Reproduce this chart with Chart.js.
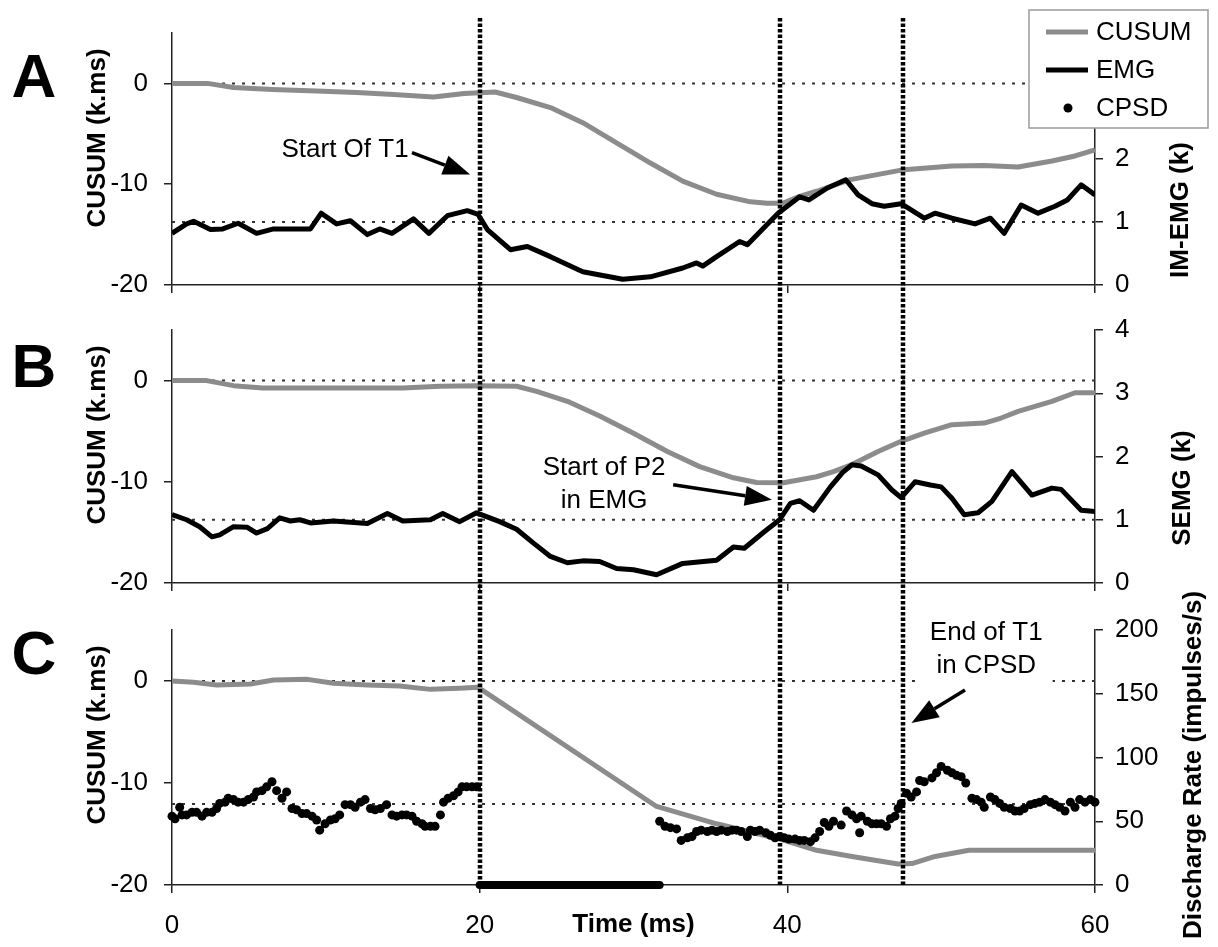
<!DOCTYPE html>
<html>
<head>
<meta charset="utf-8">
<script src="https://cdn.jsdelivr.net/npm/chart.js@4.4.1/dist/chart.umd.min.js"></script>
<style>
  body { margin: 0; background: #fff; }
  #wrap { position: relative; width: 1218px; height: 947px; }
  #wrap canvas { position: absolute; left: 0; top: 0; }
</style>
</head>
<body>
<div id="wrap">
  <canvas id="panelA" width="1218" height="947"></canvas>
  <canvas id="panelB" width="1218" height="947"></canvas>
  <canvas id="panelC" width="1218" height="947"></canvas>
</div>
<script>
'use strict';

// ticks
const timeTicks = [0, 20, 40, 60];
const cusumTicks = [-20, -10, 0];
const emgTicks = [0, 1, 2, 3, 4];
const rateTicks = [0, 50, 100, 150, 200];
const seriesNames = ['CUSUM', 'EMG', 'CPSD'];

// vertical event markers (ms) and the T1 gap bar
const eventTimes = [20, 39.5, 47.5];
const t1Gap = [20, 31.7];

// panel A: CUSUM (k.ms) and IM-EMG (k)
const cusumA_t = [0, 2.3, 4, 6.5, 9.4, 12, 14.4, 17, 19, 21, 22.4, 24.6, 26.7, 28.9, 31.1, 33.2, 35.4, 37.6, 38.7, 39.7, 40.8, 41.9, 44.1, 47.4, 50.7, 52.8, 55, 57.2, 58.7, 60];
const cusumA = [0, 0, -0.4, -0.6, -0.75, -0.9, -1.1, -1.35, -1.0, -0.85, -1.4, -2.4, -3.9, -5.9, -7.9, -9.7, -11.0, -11.75, -11.9, -11.9, -11.2, -10.7, -9.55, -8.6, -8.2, -8.15, -8.3, -7.7, -7.2, -6.6];
const emgA_t = [0, 0.95, 1.4, 2.5, 3.3, 4.3, 5.5, 6.6, 9, 9.7, 10.7, 11.6, 12.7, 13.5, 14.3, 15.7, 16.7, 17.9, 19.2, 19.9, 20.5, 22, 23.1, 24.6, 26.7, 29.3, 31.1, 33.2, 34.1, 34.5, 35.4, 36.9, 37.4, 39.4, 40.8, 41.4, 42.6, 43.8, 44.6, 45.5, 46.3, 47.4, 48.9, 49.6, 50.7, 52.2, 53.2, 54.1, 55.2, 56.3, 57.4, 58.2, 59.1, 60];
const emgA = [0.82, 0.97, 1.01, 0.88, 0.89, 0.98, 0.82, 0.89, 0.89, 1.14, 0.97, 1.02, 0.8, 0.89, 0.82, 1.05, 0.82, 1.1, 1.18, 1.12, 0.88, 0.56, 0.61, 0.45, 0.21, 0.09, 0.13, 0.27, 0.35, 0.3, 0.45, 0.69, 0.64, 1.14, 1.4, 1.35, 1.54, 1.67, 1.43, 1.29, 1.25, 1.29, 1.06, 1.14, 1.06, 0.97, 1.06, 0.82, 1.27, 1.14, 1.25, 1.35, 1.59, 1.43];

// panel B: CUSUM (k.ms) and SEMG (k)
const cusumB_t = [0, 2.25, 4, 5.9, 10, 15, 17.4, 19.9, 22.4, 23.7, 25.7, 27.8, 30, 32.2, 34.3, 36.5, 38, 39.75, 41.9, 43, 44.2, 45.9, 47.4, 48.9, 50.7, 52.8, 53.9, 55, 57.2, 58.7, 60];
const cusumB = [0, 0, -0.5, -0.73, -0.72, -0.72, -0.57, -0.5, -0.56, -1.06, -2.05, -3.5, -5.2, -7.0, -8.5, -9.6, -10.07, -10.1, -9.5, -9.0, -8.3, -7.0, -6.0, -5.2, -4.36, -4.2, -3.7, -3.04, -2.05, -1.2, -1.2];
const emgB_t = [0, 0.95, 1.8, 2.6, 3.1, 4.0, 4.9, 5.5, 6.2, 7.0, 7.7, 8.3, 9.0, 10.5, 12.7, 14.0, 15.0, 16.8, 17.6, 18.7, 19.8, 21.3, 22.4, 23.5, 24.6, 25.7, 26.7, 27.8, 28.9, 30, 31.5, 33.2, 35.4, 36.5, 37.2, 38.5, 39.5, 40.2, 40.8, 41.7, 42.8, 43.6, 44.2, 44.8, 45.9, 46.8, 47.4, 48.3, 49.3, 50.0, 50.7, 51.5, 52.4, 53.3, 54.6, 55.9, 57.2, 57.8, 59.1, 60];
const emgB = [1.08, 1.0, 0.89, 0.73, 0.76, 0.89, 0.88, 0.79, 0.86, 1.03, 0.98, 1.0, 0.95, 0.98, 0.94, 1.1, 0.98, 1.0, 1.1, 0.97, 1.11, 0.97, 0.85, 0.63, 0.42, 0.32, 0.35, 0.34, 0.23, 0.21, 0.13, 0.31, 0.36, 0.57, 0.55, 0.81, 1.0, 1.26, 1.3, 1.15, 1.52, 1.75, 1.87, 1.85, 1.71, 1.47, 1.35, 1.6, 1.55, 1.52, 1.34, 1.08, 1.11, 1.29, 1.76, 1.39, 1.5, 1.48, 1.15, 1.13];

// panel C: CUSUM (k.ms) and CPSD discharge rate (impulses/s)
const cusumC_t = [0, 1.4, 2.9, 5.1, 6.6, 8.8, 10.5, 12.7, 14.8, 16.8, 18.7, 19.9, 31.5, 35.4, 37.6, 39.75, 41.9, 44.2, 47.2, 48.1, 49.6, 51.8, 60];
const cusumC = [0, -0.13, -0.4, -0.3, 0.1, 0.16, -0.23, -0.4, -0.5, -0.82, -0.72, -0.62, -12.3, -14.0, -14.8, -15.6, -16.6, -17.2, -17.94, -17.9, -17.2, -16.6, -16.6];
const cpsd_t = [0, 0.2, 0.5, 0.65, 0.95, 1.3, 1.6, 1.95, 2.25, 2.6, 2.9, 3.1, 3.45, 3.65, 4.0, 4.3, 4.65, 4.95, 5.3, 5.5,
  5.85, 6.15, 6.5, 6.8, 7.15, 7.45, 7.8, 8.1, 8.45, 8.75, 9.1, 9.4, 9.6, 9.95, 10.3, 10.6, 10.9, 11.25, 11.6, 11.9,
  12.25, 12.55, 12.9, 13.2, 13.55, 13.95, 14.3, 14.6, 14.95, 15.25, 15.6, 15.9, 16.25, 16.45, 16.8, 17.1, 17.45, 17.65, 17.95, 18.3,
  18.6, 18.85, 19.15, 19.5, 19.8,
  31.7, 32.05, 32.4, 32.8, 33.1, 33.5, 33.8, 34.1, 34.4, 34.8, 35.1, 35.4, 35.7, 36.1, 36.4, 36.7, 37.0, 37.4, 37.6, 37.9,
  38.2, 38.6, 38.9, 39.2, 39.5, 39.8, 40.1, 40.5, 40.8, 41.1, 41.5, 41.8, 42.1, 42.4, 42.7, 43.0, 43.5, 43.85, 44.2, 44.5,
  44.7, 44.8, 45.2, 45.5, 45.8, 46.1, 46.45, 46.7, 47.0, 47.2, 47.4, 47.75, 48.05, 48.4, 48.6, 48.9, 49.4, 49.7, 50.0, 50.4,
  50.7, 51.0, 51.3, 51.6, 52.0, 52.3, 52.6, 52.8, 53.2, 53.5, 53.8, 54.1, 54.5, 54.8, 55.1, 55.4, 55.8, 56.1, 56.4, 56.75,
  57.1, 57.4, 57.7, 58.05, 58.4, 58.7, 59.0, 59.35, 59.7, 60.0];
const cpsd = [54, 52, 61, 55, 55, 57, 57, 54, 57, 57, 60, 64, 65, 68, 67, 65, 65, 67, 69, 73,
  74, 77, 81, 74, 68, 73, 60, 59, 56, 56, 54, 51, 43, 48, 51, 52, 55, 63, 63, 61,
  65, 67, 60, 59, 60, 63, 55, 54, 55, 55, 54, 50, 48, 46, 46, 46, 55, 65, 68, 70,
  73, 77, 77, 77, 77,
  50, 46, 45, 44, 35, 37, 38, 42, 43, 42, 43, 42, 43, 42, 43, 43, 42, 38, 43, 42,
  43, 41, 39, 37, 38, 37, 36, 36, 35, 35, 34, 37, 42, 49, 46, 50, 47, 58, 55, 52,
  41, 54, 50, 48, 48, 48, 46, 52, 54, 60, 64, 72, 69, 73, 82, 81, 84, 88, 93, 90,
  88, 86, 85, 80, 68, 67, 65, 61, 69, 67, 64, 61, 60, 58, 58, 60, 63, 64, 65, 67,
  65, 63, 61, 58, 65, 61, 67, 65, 67, 65];

const FONT = "'Liberation Sans', Arial, sans-serif";
const GREY = '#8c8c8c';
Chart.defaults.font.family = FONT;
Chart.defaults.font.size = 26;
Chart.defaults.color = '#000';

const pts = (ts, vs) => ts.map((t, i) => ({ x: t, y: vs[i] }));

const panels = [
  {
    id: 'panelA', letter: 'A', top: 33, bottom: 285, xh: 10, showX: false,
    datasets: [
      { label: seriesNames[1], data: pts(emgA_t, emgA), yAxisID: 'yR', borderColor: '#000', borderWidth: 5 },
      { label: seriesNames[0], data: pts(cusumA_t, cusumA), yAxisID: 'yL', borderColor: GREY, borderWidth: 5 }
    ],
    rightMax: 4, rightTicks: emgTicks, rightTitle: 'IM-EMG (k)',
    refLeft: 0, refRight: 1, rightTitleDx: 86, rightTitleDy: 177, letterDy: 47,
    note: { lines: ['Start Of T1'], at: [11.25, -6.57], tail: [15.6, -6.87], tip: [19.38, -9.05] },
    legend: true
  },
  {
    id: 'panelB', letter: 'B', top: 330, bottom: 583, xh: 10, showX: false,
    datasets: [
      { label: seriesNames[1], data: pts(emgB_t, emgB), yAxisID: 'yR', borderColor: '#000', borderWidth: 5 },
      { label: seriesNames[0], data: pts(cusumB_t, cusumB), yAxisID: 'yL', borderColor: GREY, borderWidth: 5 }
    ],
    rightMax: 4, rightTicks: emgTicks, rightTitle: 'SEMG (k)',
    refLeft: 0, refRight: 1, rightTitleDx: 88, rightTitleDy: 158, letterDy: 40,
    note: { lines: ['Start of P2', 'in EMG'], at: [28.09, -8.61], tail: [32.58, -10.3], tip: [39.0, -11.78] }
  },
  {
    id: 'panelC', letter: 'C', top: 630, bottom: 885, xh: 60, showX: true,
    datasets: [
      { label: seriesNames[2], data: pts(cpsd_t, cpsd), yAxisID: 'yR', showLine: false,
        pointRadius: 4.5, pointBackgroundColor: '#000', pointBorderWidth: 0, clip: false },
      { label: 'T1', data: pts(t1Gap, [0, 0]), yAxisID: 'yR', borderColor: '#000', borderWidth: 8,
        borderCapStyle: 'round', clip: false },
      { label: seriesNames[0], data: pts(cusumC_t, cusumC), yAxisID: 'yL', borderColor: GREY, borderWidth: 5 }
    ],
    rightMax: 200, rightTicks: rateTicks, rightTitle: 'Discharge Rate (impulses/s)',
    refLeft: 0, refRight: 63.5, rightTitleDx: 99, rightTitleDy: 135, letterDy: 27,
    note: { lines: ['End of T1', 'in CPSD'], at: [52.93, 4.71], tail: [51.55, -0.88], tip: [48.07, -4.12], box: true },
    events: true
  }
];

function arrow(ctx, x0, y0, x1, y1) {
  const ang = Math.atan2(y1 - y0, x1 - x0);
  const len = 27, half = 10;
  const bx = x1 - len * Math.cos(ang), by = y1 - len * Math.sin(ang);
  ctx.lineWidth = 3.5;
  ctx.beginPath(); ctx.moveTo(x0, y0); ctx.lineTo(bx, by); ctx.stroke();
  ctx.beginPath();
  ctx.moveTo(x1, y1);
  ctx.lineTo(bx + half * Math.sin(ang), by - half * Math.cos(ang));
  ctx.lineTo(bx - half * Math.sin(ang), by + half * Math.cos(ang));
  ctx.closePath(); ctx.fill();
}

function vtext(ctx, txt, x, y) {
  ctx.save();
  ctx.translate(x, y); ctx.rotate(-Math.PI / 2);
  ctx.textAlign = 'center'; ctx.textBaseline = 'middle';
  ctx.fillText(txt, 0, 0);
  ctx.restore();
}

function decor(p) {
  return {
    id: 'decor' + p.letter,
    beforeDatasetsDraw(chart) {
      const { ctx, chartArea: a, scales } = chart;
      ctx.save();
      ctx.strokeStyle = '#333'; ctx.lineWidth = 2; ctx.setLineDash([3, 7]);
      [scales.yL.getPixelForValue(p.refLeft), scales.yR.getPixelForValue(p.refRight)].forEach(y => {
        ctx.beginPath(); ctx.moveTo(a.left, y); ctx.lineTo(a.right, y); ctx.stroke();
      });
      ctx.restore();
    },
    afterDatasetsDraw(chart) {
      const { ctx, chartArea: a, scales } = chart;
      const X = v => scales.x.getPixelForValue(v), Y = v => scales.yL.getPixelForValue(v);
      ctx.save();
      ctx.font = '26px ' + FONT;
      ctx.fillStyle = '#000'; ctx.strokeStyle = '#000';
      const n = p.note, cx = X(n.at[0]), cy = Y(n.at[1]), gap = 33;
      if (n.box) {
        const w = Math.max(...n.lines.map(s => ctx.measureText(s).width)) + 20;
        ctx.fillStyle = '#fff';
        ctx.fillRect(cx - w / 2, cy - 18, w, gap * (n.lines.length - 1) + 42);
        ctx.fillStyle = '#000';
      }
      ctx.textAlign = 'center'; ctx.textBaseline = 'middle';
      n.lines.forEach((s, i) => ctx.fillText(s, cx, cy + i * gap));
      arrow(ctx, X(n.tail[0]), Y(n.tail[1]), X(n.tip[0]), Y(n.tip[1]));
      if (p.events) {
        ctx.lineWidth = 4.5; ctx.setLineDash([3.5, 2]);
        eventTimes.forEach(t => {
          const x = Math.round(X(t));
          ctx.beginPath(); ctx.moveTo(x, 18); ctx.lineTo(x, a.bottom); ctx.stroke();
        });
      }
      ctx.restore();
    },
    afterDraw(chart) {
      const { ctx, chartArea: a } = chart;
      ctx.save();
      ctx.fillStyle = '#000';
      ctx.font = 'bold 26px ' + FONT;
      vtext(ctx, 'CUSUM (k.ms)', a.left - 74, a.top + 105);
      vtext(ctx, p.rightTitle, a.right + p.rightTitleDx, a.top + p.rightTitleDy);
      if (p.showX) {
        ctx.textAlign = 'center'; ctx.textBaseline = 'alphabetic';
        ctx.fillText('Time (ms)', (a.left + a.right) / 2, a.bottom + 47);
      }
      ctx.font = 'bold 62px ' + FONT;
      ctx.textAlign = 'center'; ctx.textBaseline = 'middle';
      ctx.fillText(p.letter, 34, a.top + p.letterDy);
      if (p.legend) {
        const lx = a.right - 66, ly = 10, lw = 179, lh = 118;
        ctx.fillStyle = '#fff'; ctx.fillRect(lx, ly, lw, lh);
        ctx.strokeStyle = '#9a9a9a'; ctx.lineWidth = 1.5; ctx.strokeRect(lx, ly, lw, lh);
        const rows = [ly + 22, ly + 60, ly + 98];
        ctx.lineCap = 'butt';
        ctx.strokeStyle = GREY; ctx.lineWidth = 5;
        ctx.beginPath(); ctx.moveTo(lx + 17, rows[0]); ctx.lineTo(lx + 59, rows[0]); ctx.stroke();
        ctx.strokeStyle = '#000'; ctx.lineWidth = 5;
        ctx.beginPath(); ctx.moveTo(lx + 17, rows[1]); ctx.lineTo(lx + 59, rows[1]); ctx.stroke();
        ctx.fillStyle = '#000';
        ctx.beginPath(); ctx.arc(lx + 39, rows[2], 4.5, 0, Math.PI * 2); ctx.fill();
        ctx.font = '26px ' + FONT;
        ctx.textAlign = 'left'; ctx.textBaseline = 'middle';
        seriesNames.forEach((s, i) => ctx.fillText(s, lx + 67, rows[i] + 1));
      }
      ctx.restore();
    }
  };
}

const axisStyle = {
  grid: { drawOnChartArea: false, drawTicks: true, tickLength: 8, color: '#222', lineWidth: 1.5 },
  border: { display: true, color: '#222', width: 1.5 }
};

panels.forEach(p => {
  p.datasets.forEach(d => {
    if (d.pointRadius === undefined) d.pointRadius = 0;
    d.borderJoinStyle = 'round';
    d.tension = 0;
  });
  new Chart(document.getElementById(p.id), {
    type: 'line',
    data: { datasets: p.datasets },
    options: {
      responsive: false,
      animation: false,
      events: [],
      devicePixelRatio: 1,
      layout: { padding: { left: 0, right: 0, top: p.top, bottom: 947 - p.bottom - p.xh } },
      plugins: { legend: { display: false }, tooltip: { enabled: false } },
      scales: {
        x: {
          type: 'linear', min: 0, max: 60, ...axisStyle,
          afterBuildTicks: s => { s.ticks = timeTicks.map(v => ({ value: v })); },
          afterFit: s => { s.height = p.xh; },
          ticks: { display: p.showX, autoSkip: false, maxRotation: 0, padding: 17, callback: v => String(v) }
        },
        yL: {
          position: 'left', min: -20, max: 5, ...axisStyle,
          afterBuildTicks: s => { s.ticks = cusumTicks.map(v => ({ value: v })); },
          afterFit: s => { s.width = 172; },
          ticks: { padding: 16, callback: v => String(v) }
        },
        yR: {
          position: 'right', min: 0, max: p.rightMax, ...axisStyle,
          afterBuildTicks: s => { s.ticks = p.rightTicks.map(v => ({ value: v })); },
          afterFit: s => { s.width = 123; },
          ticks: { padding: 12, callback: v => String(v) }
        }
      }
    },
    plugins: [decor(p)]
  });
});
</script>
</body>
</html>
